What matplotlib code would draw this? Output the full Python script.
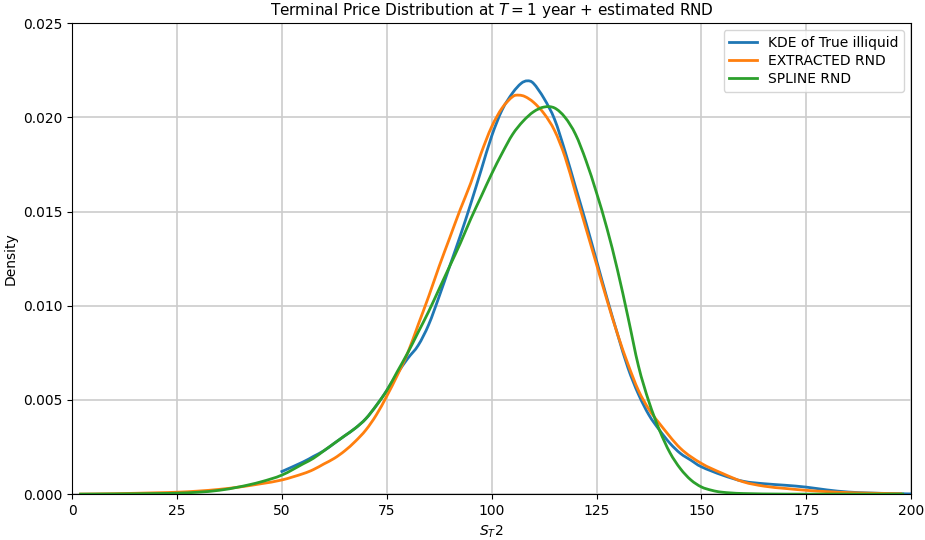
import numpy as np
import matplotlib.pyplot as plt
from matplotlib.path import Path
from matplotlib.patches import PathPatch

# values
kde_x = [50, 55, 57.5, 60, 62.5, 65, 67.5, 70, 72.5, 75, 77.5, 80, 82.5, 85,
         87.5, 90, 92.5, 95, 97.5, 100, 102.5, 105, 107, 108.5, 110, 112.5, 115,
         117.5, 120, 122.5, 125, 127.5, 130, 132.5, 135, 137.5, 140, 142.5, 145,
         147.5, 150, 155, 160, 165, 170, 175, 180, 185, 190, 195, 200]
kde_y = [0.0012, 0.0017, 0.0020, 0.0023, 0.0027, 0.0031, 0.0035, 0.0040, 0.0047,
         0.0055, 0.0064, 0.0072, 0.0079, 0.0090, 0.0105, 0.0121, 0.0137, 0.0154,
         0.0172, 0.0190, 0.0204, 0.0213, 0.0218, 0.02194, 0.0218, 0.0210, 0.0199,
         0.0182, 0.0163, 0.0144, 0.0124, 0.0104, 0.0085, 0.0067, 0.0053, 0.0042,
         0.0034, 0.0027, 0.00216, 0.0018, 0.00145, 0.00101, 0.00068, 0.00055,
         0.00047, 0.00037, 0.00022, 0.00011, 0.00006, 0.00003, 0.00001]

ext_x = [2, 10, 20, 25, 30, 35, 40, 45, 50, 55, 57.5, 60, 62.5, 65, 67.5, 70,
         72.5, 75, 77.5, 80, 82.5, 85, 87.5, 90, 92.5, 95, 97.5, 100, 102.5, 105,
         106.5, 108, 110, 112.5, 115, 117.5, 120, 122.5, 125, 127.5, 130, 132.5,
         135, 137.5, 140, 145, 150, 155, 160, 165, 170, 175, 180, 185, 190, 197.5]
ext_y = [0.0, 0.00002, 0.00007, 0.0001, 0.00016, 0.00025, 0.00038, 0.00055,
         0.00075, 0.00108, 0.0013, 0.0016, 0.0019, 0.0023, 0.0028, 0.0034, 0.0042,
         0.0052, 0.0063, 0.0075, 0.0090, 0.0105, 0.0121, 0.0136, 0.0151, 0.0165,
         0.0181, 0.0195, 0.0205, 0.0211, 0.02118, 0.0211, 0.0208, 0.0202, 0.0193,
         0.0179, 0.0160, 0.0141, 0.0122, 0.0103, 0.0085, 0.0069, 0.0055, 0.0045,
         0.00375, 0.00243, 0.00163, 0.0011, 0.00065, 0.00042, 0.0003, 0.0002,
         0.00013, 0.00008, 0.00005, 0.00002]

spl_x = [2, 10, 20, 25, 30, 35, 40, 45, 50, 55, 57.5, 60, 62.5, 65, 67.5, 70,
         72.5, 75, 77.5, 80, 82.5, 85, 87.5, 90, 92.5, 95, 97.5, 100, 102.5, 105,
         107.5, 110, 112.5, 115, 117.5, 120, 122.5, 125, 127.5, 130, 132.5, 135,
         137.5, 140, 142.5, 145, 147.5, 150, 152.5, 155, 160, 170, 180, 198]
spl_y = [0.0, 0.00001, 0.00003, 0.00005, 0.0001, 0.0002, 0.00039, 0.00065,
         0.00101, 0.0016, 0.0019, 0.0023, 0.0027, 0.0031, 0.0035, 0.0040, 0.0047,
         0.0055, 0.0065, 0.0075, 0.0086, 0.0097, 0.0109, 0.0121, 0.0133, 0.0146,
         0.0158, 0.0170, 0.0181, 0.0191, 0.0198, 0.0203, 0.02055, 0.0205, 0.0200,
         0.0191, 0.0177, 0.0160, 0.0141, 0.0119, 0.0094, 0.0068, 0.0049, 0.0034,
         0.0022, 0.00135, 0.00075, 0.00038, 0.0002, 0.0001, 0.00003, 0.0, 0.0, 0.0]


def smooth_path(xs, ys):
    # Catmull-Rom style bezier through the read points
    p = np.column_stack([xs, ys])
    verts = [p[0]]
    codes = [Path.MOVETO]
    for i in range(len(p) - 1):
        p0 = p[i - 1] if i > 0 else p[i]
        p3 = p[i + 2] if i + 2 < len(p) else p[i + 1]
        c1 = p[i] + (p[i + 1] - p0) / 6
        c2 = p[i + 1] - (p3 - p[i]) / 6
        verts += [c1, c2, p[i + 1]]
        codes += [Path.CURVE4] * 3
    return Path(verts, codes)


fig, ax = plt.subplots(figsize=(9.25, 5.4), dpi=100)
fig.subplots_adjust(left=0.078, right=0.985, bottom=0.085, top=0.957)

series = [(kde_x, kde_y, 'tab:blue', 'KDE of True illiquid'),
          (ext_x, ext_y, 'tab:orange', 'EXTRACTED RND'),
          (spl_x, spl_y, 'tab:green', 'SPLINE RND')]
for xs, ys, c, lab in series:
    ax.add_patch(PathPatch(smooth_path(xs, ys), fill=False, edgecolor=c, lw=2,
                           capstyle='projecting', joinstyle='round'))
    ax.plot([], [], color=c, lw=2, label=lab)

ax.set_xlim(0, 200)
ax.set_ylim(0, 0.025)
ax.set_xticks(np.arange(0, 201, 25))
ax.set_yticks(np.arange(0, 0.0251, 0.005))
ax.grid(True, color='#cccccc', lw=1.2)
ax.set_axisbelow(True)

ax.set_title('Terminal Price Distribution at $T = 1$ year + estimated RND', fontsize=11)
ax.set_xlabel('$S_T2$')
ax.set_ylabel('Density')
ax.legend(loc='upper right', fontsize=10, labelspacing=0.3)

fig.savefig('out.png', dpi=100)
